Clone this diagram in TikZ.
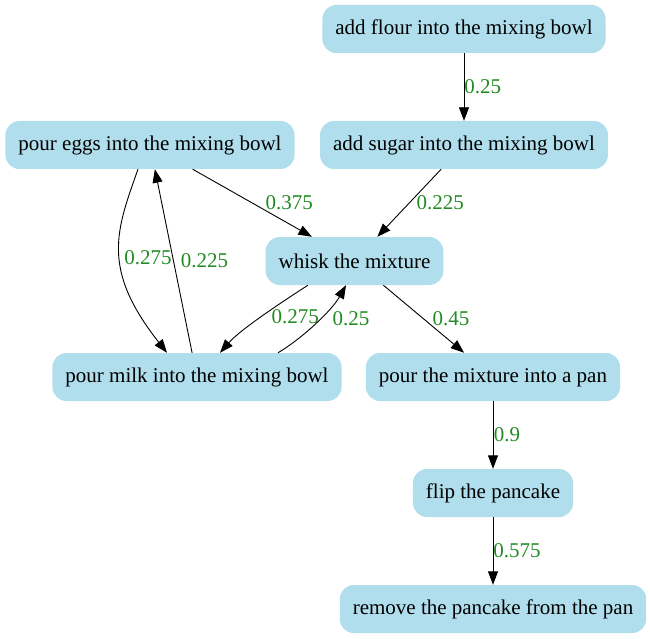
\documentclass[tikz,border=0pt]{standalone}
\usepackage{fontspec}
\setmainfont{Liberation Serif}
\usetikzlibrary{arrows.meta}

\begin{document}
\begin{tikzpicture}[x=1pt,y=-1pt,
  task/.style={rectangle, rounded corners=14pt, fill=boxblue, minimum height=48pt,
    inner xsep=13pt, font=\fontsize{21}{25}\selectfont},
  wt/.style={font=\fontsize{21}{25}\selectfont, text=wgreen, inner sep=0pt, anchor=west},
  flow/.style={-{Triangle[length=13.5pt,width=10pt]}, line width=0.9pt}]

% Colors
\definecolor{boxblue}{RGB}{176,222,236}
\definecolor{wgreen}{RGB}{34,139,34}

% Frame (pixel coordinates, y downwards)
\useasboundingbox (0,0) rectangle (650,639);

% Steps of the recipe
\node[task] (flour)  at (464,29)    {add flour into the mixing bowl};
\node[task] (sugar)  at (464,145)   {add sugar into the mixing bowl};
\node[task] (eggs)   at (150,145)   {pour eggs into the mixing bowl};
\node[task] (whisk)  at (354.5,261) {whisk the mixture};
\node[task] (milk)   at (197,377)   {pour milk into the mixing bowl};
\node[task] (pan)    at (493,377)   {pour the mixture into a pan};
\node[task] (flip)   at (493,493)   {flip the pancake};
\node[task] (remove) at (493,609)   {remove the pancake from the pan};

% Straight transitions
\draw[flow] (flour) -- (sugar) node[wt, midway] (w1) {0.25};
\draw[flow] (sugar) -- (whisk) node[wt, midway, xshift=7pt] (w2) {0.225};
\draw[flow] (eggs) -- (whisk) node[wt, midway, xshift=13pt] (w3) {0.375};
\draw[flow] (milk) -- (eggs) node[wt, midway, xshift=7pt] (w5) {0.225};
\draw[flow] (whisk) -- (pan) node[wt, midway, xshift=8.5pt] (w8) {0.45};
\draw[flow] (pan) -- (flip) node[wt, midway, xshift=0.5pt] (w9) {0.9};
\draw[flow] (flip) -- (remove) node[wt, midway] (w10) {0.575};

% Curved transitions
\draw[flow] ([xshift=-12pt]eggs.south) .. controls +(-22,62) and +(-66,-84) ..
  ([xshift=-30pt]milk.north) node[wt, pos=0.53, xshift=4pt] (w4) {0.275};
\draw[flow] ([xshift=-46.5pt]whisk.south) .. controls +(-25,16) and +(20,-23) ..
  ([xshift=23pt]milk.north) node[wt, midway, xshift=9pt] (w6) {0.275};
\draw[flow] ([xshift=81pt]milk.north) .. controls +(25,-15) and +(-14,25) ..
  ([xshift=-8.5pt]whisk.south) node[wt, midway, xshift=16pt, yshift=4.5pt] (w7) {0.25};

\end{tikzpicture}
\end{document}
